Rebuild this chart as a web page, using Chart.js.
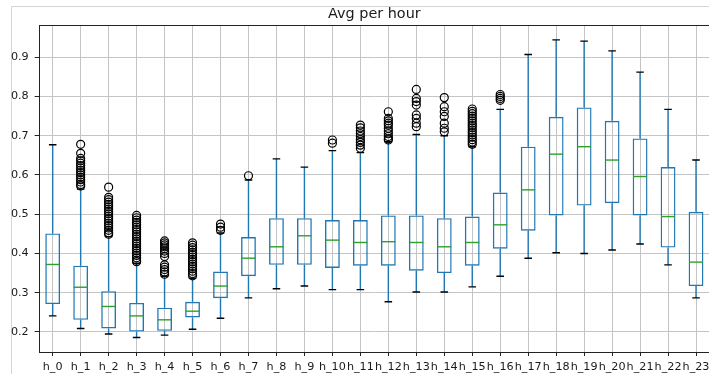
<!DOCTYPE html>
<html>
<head>
<meta charset="utf-8">
<script src="https://cdn.jsdelivr.net/npm/chart.js@4"></script>
<style>
  html, body { margin: 0; padding: 0; background: #fff; overflow: hidden; }
  #wrap { width: 720px; height: 374px; position: relative; }
</style>
</head>
<body>
<div id="wrap"><canvas id="myChart"></canvas></div>
<script>
// hours on the x axis
let hours = ['h_0', 'h_1', 'h_2', 'h_3', 'h_4', 'h_5', 'h_6', 'h_7', 'h_8', 'h_9', 'h_10', 'h_11',
    'h_12', 'h_13', 'h_14', 'h_15', 'h_16', 'h_17', 'h_18', 'h_19', 'h_20', 'h_21', 'h_22', 'h_23']

// box stats
let whiskLow = [0.241, 0.209, 0.195, 0.186, 0.192, 0.207, 0.235, 0.287, 0.310, 0.317, 0.308, 0.308,
    0.277, 0.302, 0.302, 0.315, 0.342, 0.388, 0.402, 0.400, 0.409, 0.424, 0.371, 0.287]
let q1 = [0.271, 0.231, 0.209, 0.201, 0.203, 0.237, 0.286, 0.342, 0.371, 0.371, 0.363, 0.369,
    0.369, 0.356, 0.350, 0.369, 0.412, 0.458, 0.497, 0.522, 0.528, 0.497, 0.415, 0.317]
let median = [0.372, 0.314, 0.265, 0.241, 0.231, 0.253, 0.317, 0.388, 0.417, 0.445, 0.434, 0.428,
    0.430, 0.428, 0.417, 0.428, 0.473, 0.562, 0.653, 0.672, 0.638, 0.596, 0.494, 0.378]
let q3 = [0.451, 0.369, 0.304, 0.274, 0.262, 0.277, 0.354, 0.442, 0.490, 0.490, 0.485, 0.485,
    0.497, 0.497, 0.490, 0.494, 0.555, 0.672, 0.748, 0.772, 0.738, 0.693, 0.620, 0.506]
let whiskHigh = [0.677, 0.564, 0.443, 0.375, 0.342, 0.337, 0.452, 0.587, 0.641, 0.620, 0.662, 0.657,
    0.685, 0.703, 0.700, 0.672, 0.767, 0.907, 0.944, 0.941, 0.916, 0.862, 0.767, 0.638]

// outliers per hour
let outliers = [
    [],
    [0.678, 0.655, 0.642, 0.636, 0.630, 0.624, 0.618, 0.612, 0.606, 0.600, 0.594, 0.588, 0.582, 0.576, 0.572],
    [0.569, 0.543, 0.537, 0.531, 0.525, 0.519, 0.513, 0.507, 0.501, 0.495, 0.489, 0.483, 0.477, 0.471, 0.465, 0.459, 0.453, 0.449],
    [0.497, 0.491, 0.485, 0.479, 0.473, 0.467, 0.461, 0.455, 0.449, 0.443, 0.437, 0.431, 0.425, 0.419, 0.413, 0.407, 0.401, 0.395, 0.389, 0.383, 0.379],
    [0.432, 0.427, 0.422, 0.417, 0.412, 0.406, 0.400, 0.392, 0.371, 0.365, 0.359, 0.353, 0.347],
    [0.427, 0.421, 0.415, 0.409, 0.403, 0.397, 0.391, 0.385, 0.379, 0.373, 0.367, 0.361, 0.355, 0.349, 0.343],
    [0.475, 0.467, 0.459],
    [0.598],
    [],
    [],
    [0.689, 0.681],
    [0.727, 0.720, 0.712, 0.705, 0.698, 0.690, 0.683, 0.676, 0.668],
    [0.761, 0.744, 0.738, 0.732, 0.727, 0.719, 0.712, 0.705, 0.698, 0.692, 0.689],
    [0.818, 0.795, 0.787, 0.778, 0.753, 0.744, 0.732, 0.723],
    [0.797, 0.774, 0.761, 0.749, 0.732, 0.719, 0.710],
    [0.768, 0.762, 0.756, 0.750, 0.744, 0.738, 0.732, 0.726, 0.720, 0.714, 0.708, 0.702, 0.696, 0.690, 0.684, 0.678],
    [0.805, 0.800, 0.795, 0.790],
    [], [], [], [], [], [], []
]

let yTicks = [0.2, 0.3, 0.4, 0.5, 0.6, 0.7, 0.8, 0.9]

let blue = '#1f77b4'
let green = '#2ca02c'

let boxes = hours.map((h, i) => [q1[i], q3[i]])
let flierPoints = []
outliers.forEach((vals, i) => {
    vals.forEach(v => flierPoints.push({ x: hours[i], y: v }))
})

// whiskers, caps, medians, frame, title and spines
let boxExtras = {
    id: 'boxExtras',
    beforeDraw(chart) {
        let c = chart.ctx
        c.save()
        c.strokeStyle = '#d6d6d6'
        c.lineWidth = 1
        c.strokeRect(11.5, 6.5, chart.width, chart.height)
        c.restore()
    },
    beforeDatasetsDraw(chart) {
        let c = chart.ctx
        let x = chart.scales.x
        let y = chart.scales.y
        let half = x.getPixelForValue(1) - x.getPixelForValue(0)
        c.save()
        c.lineWidth = 1.4
        hours.forEach((h, i) => {
            let cx = x.getPixelForValue(i)
            c.strokeStyle = blue
            c.beginPath()
            c.moveTo(cx, y.getPixelForValue(q1[i]))
            c.lineTo(cx, y.getPixelForValue(whiskLow[i]))
            c.moveTo(cx, y.getPixelForValue(q3[i]))
            c.lineTo(cx, y.getPixelForValue(whiskHigh[i]))
            c.stroke()
            c.strokeStyle = '#000'
            c.beginPath()
            let cw = half * 0.135
            c.moveTo(cx - cw, y.getPixelForValue(whiskLow[i]))
            c.lineTo(cx + cw, y.getPixelForValue(whiskLow[i]))
            c.moveTo(cx - cw, y.getPixelForValue(whiskHigh[i]))
            c.lineTo(cx + cw, y.getPixelForValue(whiskHigh[i]))
            c.stroke()
        })
        c.restore()
    },
    afterDatasetsDraw(chart) {
        let c = chart.ctx
        let x = chart.scales.x
        let y = chart.scales.y
        let a = chart.chartArea
        let half = x.getPixelForValue(1) - x.getPixelForValue(0)
        c.save()
        c.lineWidth = 1.4
        c.strokeStyle = green
        hours.forEach((h, i) => {
            let cx = x.getPixelForValue(i)
            let my = y.getPixelForValue(median[i])
            c.beginPath()
            c.moveTo(cx - half * 0.25, my)
            c.lineTo(cx + half * 0.25, my)
            c.stroke()
        })
        c.strokeStyle = '#222'
        c.lineWidth = 1
        c.strokeRect(Math.round(a.left) + 0.5, Math.round(a.top) + 0.5, a.right - a.left, a.bottom - a.top)
        c.fillStyle = '#1a1a1a'
        c.font = '14.4px "DejaVu Sans"'
        c.textAlign = 'center'
        c.textBaseline = 'alphabetic'
        c.fillText('Avg per hour', (a.left + a.right) / 2, 18)
        c.restore()
    }
}

let ctx = document.getElementById('myChart').getContext('2d')
new Chart(ctx, {
    type: 'bar',
    data: {
        labels: hours,
        datasets: [{
            type: 'bar',
            data: boxes,
            backgroundColor: 'rgba(0,0,0,0)',
            borderColor: blue,
            borderWidth: 1.4,
            borderSkipped: false,
            barPercentage: 0.53,
            categoryPercentage: 1
        }, {
            type: 'line',
            data: flierPoints,
            showLine: false,
            pointStyle: 'circle',
            pointRadius: 4,
            pointBorderWidth: 1.2,
            pointBorderColor: '#000',
            pointBackgroundColor: 'rgba(0,0,0,0)'
        }]
    },
    options: {
        responsive: true,
        maintainAspectRatio: false,
        animation: false,
        layout: { padding: { top: 25, right: 10, left: 0, bottom: 0 } },
        plugins: {
            legend: { display: false },
            tooltip: { enabled: false },
            title: { display: false }
        },
        scales: {
            x: {
                type: 'category',
                offset: true,
                grid: { offset: false, color: '#c4c4c4', lineWidth: 1, tickColor: '#222', tickLength: 4 },
                border: { display: false },
                ticks: {
                    autoSkip: false, maxRotation: 0, minRotation: 0, padding: 4,
                    color: '#1a1a1a', font: { family: 'DejaVu Sans', size: 11.2 }
                },
                afterFit: scale => { scale.height = 22 }
            },
            y: {
                min: 0.149,
                max: 0.982,
                grid: { color: '#c4c4c4', lineWidth: 1, tickColor: '#222', tickLength: 4 },
                border: { display: false },
                afterBuildTicks: scale => { scale.ticks = yTicks.map(v => ({ value: v })) },
                ticks: {
                    padding: 6, color: '#1a1a1a',
                    font: { family: 'DejaVu Sans', size: 11.2 },
                    callback: v => v.toFixed(1)
                },
                afterFit: scale => { scale.width = 38.7 }
            }
        }
    },
    plugins: [boxExtras]
})
</script>
</body>
</html>
